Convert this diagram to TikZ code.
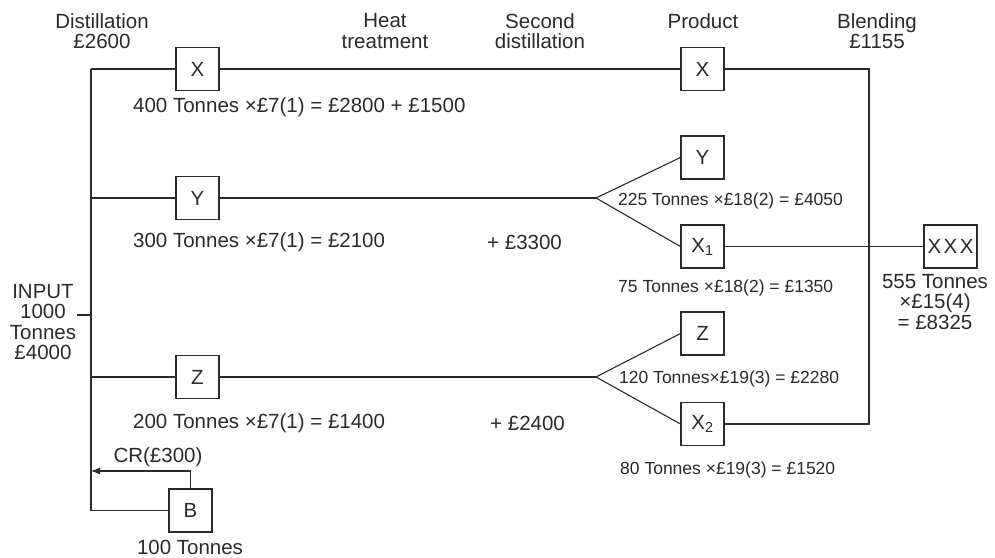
\documentclass[tikz,border=0pt]{standalone}
\usepackage{fontspec}
\setmainfont{Liberation Sans}
\usetikzlibrary{arrows.meta}
\definecolor{ink}{HTML}{2A2A2A}
\tikzset{
  box/.style={draw=ink, line width=1.1pt, minimum width=43pt, minimum height=43pt, inner sep=0pt, font=\fontsize{20.5}{20.5}\selectfont, text=ink},
  wide/.style={box, minimum width=53pt},
  conn/.style={draw=ink, line width=1.1pt},
  lbl/.style={font=\fontsize{20.5}{20.5}\selectfont, text=ink, inner sep=0pt, align=center},
  small/.style={font=\fontsize{17.5}{18}\selectfont, text=ink, inner sep=0pt, anchor=west},
}
\begin{document}
\begin{tikzpicture}[x=1pt,y=-1pt]
\useasboundingbox (0,0) rectangle (995,557);
% boxes
\node[box] (dX) at (197.5,69) {X};
\node[box] (pX) at (702.5,69) {X};
\node[box] (dY) at (197.5,198) {Y};
\node[box] (pY) at (702.5,157.5) {Y};
\node[box] (pX1) at (702.5,246.5) {X\textsubscript{1}};
\node[box] (dZ) at (197.5,377) {Z};
\node[box] (pZ) at (702.5,333.5) {Z};
\node[box] (pX2) at (702.5,424) {X\textsubscript{2}};
\node[wide] (xxx) at (950.5,246.5) {X\hspace{2.5pt}X\hspace{2.5pt}X};
\node[box] (B) at (190.5,510.5) {B};
% coordinates
\coordinate (tl) at (91,69);
\coordinate (tr) at (869,69);
\coordinate (br) at (869,424);
\coordinate (lY) at (91,198);
\coordinate (lZ) at (91,377);
\coordinate (lB) at (91,510.5);
\coordinate (bY) at (596,198);
\coordinate (bZ) at (596,377);
\coordinate (in0) at (77,315);
\coordinate (in1) at (91,315);
\coordinate (cr) at (190.5,471);
\coordinate (crl) at (91,471);
% connectors
\draw[conn] (tl) -- (dX.west);
\draw[conn] (dX.east) -- (pX.west);
\draw[conn] (pX.east) -- (tr) -- (br) -- (pX2.east);
\draw[conn] (tl) -- (lB) -- (B.west);
\draw[conn] (lY) -- (dY.west);
\draw[conn] (dY.east) -- (bY);
\draw[conn] (bY) -- (pY.west);
\draw[conn] (bY) -- (pX1.west);
\draw[conn] (pX1.east) -- (xxx.west);
\draw[conn] (lZ) -- (dZ.west);
\draw[conn] (dZ.east) -- (bZ);
\draw[conn] (bZ) -- (pZ.west);
\draw[conn] (bZ) -- (pX2.west);
\draw[conn] (in0) -- (in1);
\draw[conn, -{Latex[length=9pt,width=7pt]}] (B.north) -- (cr) -- (crl);
% headings
\node[lbl] (h1) at (102,31) {Distillation\\£2600};
\node[lbl] (h2) at (385,31) {Heat\\treatment};
\node[lbl] (h3) at (540,31) {Second\\distillation};
\node[lbl] (h4) at (703,21) {Product};
\node[lbl] (h5) at (877,31) {Blending\\£1155};
% labels
\node[lbl, anchor=west] (t1) at (133,107) {400 Tonnes ×£7(1) = £2800 + £1500};
\node[lbl, anchor=west] (t2) at (133,242) {300 Tonnes ×£7(1) = £2100};
\node[lbl, anchor=west] (t2b) at (487,242) {+ £3300};
\node[lbl, anchor=west] (t3) at (133,423) {200 Tonnes ×£7(1) = £1400};
\node[lbl, anchor=west] (t3b) at (490,423) {+ £2400};
\node[small] (s1) at (618,201) {225 Tonnes ×£18(2) = £4050};
\node[small] (s2) at (618,288) {75 Tonnes ×£18(2) = £1350};
\node[small] (s3) at (619,379) {120 Tonnes×£19(3) = £2280};
\node[small] (s4) at (620,470) {80 Tonnes ×£19(3) = £1520};
\node[lbl] (out) at (935,302) {555 Tonnes\\×£15(4)\\= £8325};
\node[lbl] (inp) at (43,322) {INPUT\\1000\\Tonnes\\£4000};
\node[lbl] (crt) at (158,457) {CR(£300)};
\node[lbl] (bt) at (190,547) {100 Tonnes};
\end{tikzpicture}
\end{document}
